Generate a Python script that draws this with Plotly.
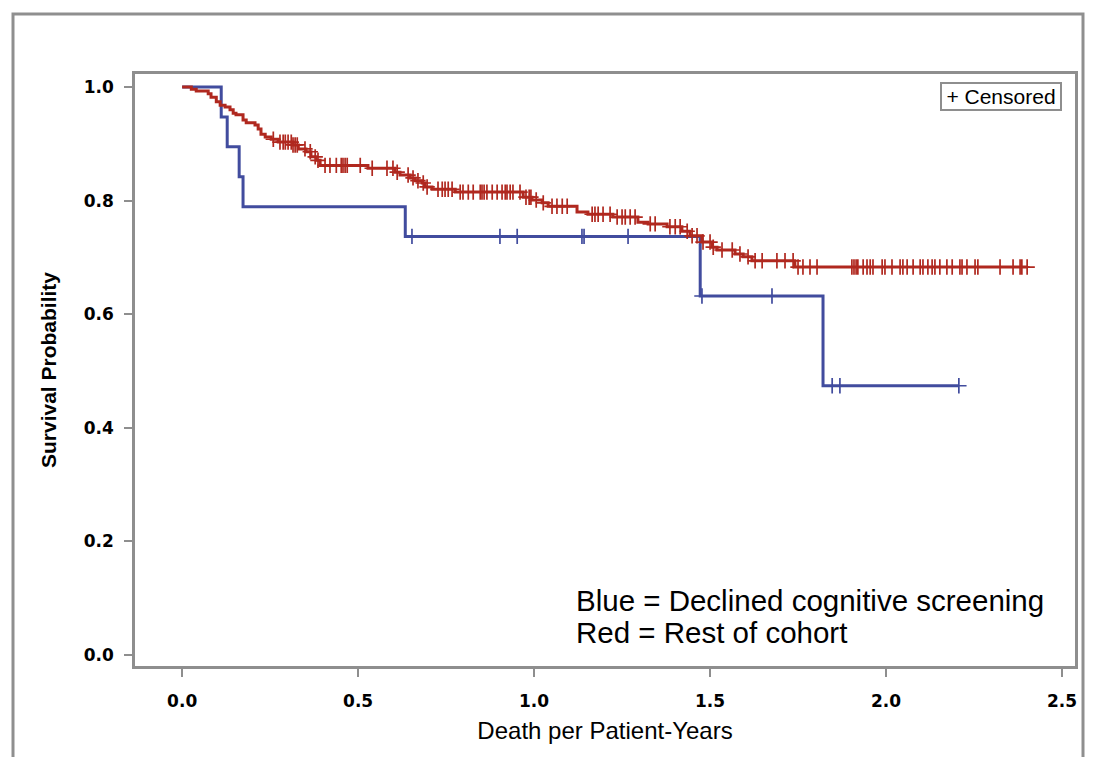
import numpy as np
import plotly.graph_objects as go

# ---------------- data ----------------
blue_event_times = [0.111, 0.128, 0.162, 0.173, 0.634, 1.472, 1.821]
blue_survival = [0.947, 0.895, 0.842, 0.789, 0.737, 0.632, 0.474]
blue_censor_times = [0.653, 0.903, 0.952, 1.136, 1.142, 1.267, 1.477, 1.676,
                     1.847, 1.869, 2.207]

red_event_times = [0.026, 0.040, 0.074, 0.082, 0.097, 0.108, 0.122, 0.136, 0.145,
                   0.153, 0.173, 0.182, 0.207, 0.216, 0.224, 0.236, 0.253, 0.273,
                   0.315, 0.330, 0.352, 0.366, 0.381, 0.392, 0.528, 0.605, 0.619,
                   0.648, 0.662, 0.682, 0.690, 0.710, 0.776, 0.969, 0.994, 1.023,
                   1.040, 1.122, 1.153, 1.224, 1.295, 1.324, 1.378, 1.420, 1.443,
                   1.477, 1.506, 1.520, 1.571, 1.594, 1.619, 1.741]
red_survival = [0.996, 0.993, 0.988, 0.982, 0.974, 0.968, 0.965, 0.960, 0.954,
                0.951, 0.942, 0.937, 0.933, 0.926, 0.917, 0.912, 0.908, 0.903,
                0.898, 0.891, 0.886, 0.877, 0.871, 0.862, 0.857, 0.850, 0.845,
                0.840, 0.835, 0.831, 0.824, 0.820, 0.815, 0.806, 0.801, 0.796,
                0.790, 0.780, 0.776, 0.771, 0.762, 0.759, 0.754, 0.746, 0.738,
                0.727, 0.718, 0.713, 0.706, 0.701, 0.694, 0.683]
red_censor_times = [0.259, 0.278, 0.287, 0.293, 0.301, 0.310, 0.315, 0.321, 0.327,
                    0.349, 0.364, 0.378, 0.386, 0.406, 0.420, 0.438, 0.452, 0.457,
                    0.463, 0.469, 0.506, 0.540, 0.582, 0.599, 0.611, 0.642, 0.656,
                    0.670, 0.685, 0.696, 0.727, 0.739, 0.747, 0.756, 0.767, 0.790,
                    0.798, 0.813, 0.827, 0.847, 0.852, 0.858, 0.866, 0.881, 0.895,
                    0.909, 0.918, 0.923, 0.932, 0.940, 0.960, 0.977, 0.986, 0.991,
                    1.006, 1.026, 1.051, 1.065, 1.080, 1.094, 1.165, 1.173, 1.182,
                    1.196, 1.216, 1.236, 1.250, 1.259, 1.273, 1.287, 1.330, 1.344,
                    1.386, 1.401, 1.415, 1.435, 1.449, 1.463, 1.480, 1.500, 1.509,
                    1.534, 1.563, 1.585, 1.608, 1.628, 1.648, 1.690, 1.713, 1.736,
                    1.750, 1.764, 1.784, 1.804, 1.903, 1.909, 1.915, 1.920, 1.935,
                    1.946, 1.955, 1.963, 1.989, 1.997, 2.017, 2.040, 2.048, 2.060,
                    2.077, 2.097, 2.105, 2.119, 2.131, 2.139, 2.153, 2.173, 2.188,
                    2.210, 2.216, 2.230, 2.253, 2.261, 2.324, 2.361, 2.381, 2.386,
                    2.401]

x_tick_values = [0.0, 0.5, 1.0, 1.5, 2.0, 2.5]
y_tick_values = [0.0, 0.2, 0.4, 0.6, 0.8, 1.0]

series_labels = ["Declined cognitive screening", "Rest of cohort"]
note_lines = ["Blue = Declined cognitive screening", "Red = Rest of cohort"]
legend_text = "+ Censored"

BLUE = "#414C9E"
RED = "#B0281F"
GRAY = "#8E8E8E"


def step_path(times, surv, end_time):
    xs = [0.0] + list(times) + [end_time]
    ys = [1.0] + list(surv) + [surv[-1]]
    return xs, ys


def surv_at(times, surv, tvals):
    t_arr = np.asarray(times)
    s_arr = np.asarray(surv)
    out = []
    for t in tvals:
        idx = np.searchsorted(t_arr, t, side="right")
        out.append(1.0 if idx == 0 else float(s_arr[idx - 1]))
    return out


fig = go.Figure()

for times, surv, cens, color, name in [
    (blue_event_times, blue_survival, blue_censor_times, BLUE, series_labels[0]),
    (red_event_times, red_survival, red_censor_times, RED, series_labels[1]),
]:
    xs, ys = step_path(times, surv, max(cens))
    fig.add_trace(go.Scatter(
        x=xs, y=ys, mode="lines", line=dict(color=color, width=3, shape="hv"),
        name=name, showlegend=False, hoverinfo="skip"))
    fig.add_trace(go.Scatter(
        x=cens, y=surv_at(times, surv, cens), mode="markers",
        marker=dict(symbol="cross-thin", size=11, color=color,
                    line=dict(color=color, width=1.7)),
        name=name + " (censored)", showlegend=False))

# The page body has an 8px margin; work in page pixels and convert.
OFF = 8
W, H = 1094 - OFF, 757 - OFF
ml, mr, mt, mb = 135 - OFF, 19, 74 - OFF, 91
pw, ph = W - ml - mr, H - mt - mb


def px_x(p):
    return (p - OFF - ml) / pw


def px_y(p):
    return 1 - (p - OFF - mt) / ph


shapes = [
    dict(type="line", xref="paper", yref="paper",
         x0=px_x(1089), x1=px_x(1089), y0=px_y(800), y1=px_y(7),
         line=dict(color="#5B9BD5", width=2), layer="below"),
    dict(type="rect", xref="paper", yref="paper",
         x0=px_x(13), x1=px_x(1083), y0=px_y(800), y1=px_y(14),
         line=dict(color="#8F8F8F", width=3), layer="below"),
]

annotations = [
    dict(text=note_lines[0], xref="paper", yref="paper", x=px_x(574), y=px_y(600),
         xanchor="left", yanchor="middle", showarrow=False,
         font=dict(family="Liberation Sans, Arial", size=29.5, color="#000")),
    dict(text=note_lines[1], xref="paper", yref="paper", x=px_x(574), y=px_y(632),
         xanchor="left", yanchor="middle", showarrow=False,
         font=dict(family="Liberation Sans, Arial", size=29.5, color="#000")),
    dict(text=legend_text, xref="paper", yref="paper", x=px_x(1001), y=px_y(96.5),
         xanchor="center", yanchor="middle", showarrow=False,
         width=116, height=23,
         font=dict(family="Liberation Sans, Arial", size=21, color="#000"),
         bordercolor=GRAY, borderwidth=2, borderpad=1, bgcolor="white"),
]

axis_common = dict(
    showline=True, linecolor=GRAY, linewidth=2.5, mirror=True,
    ticks="outside", ticklen=8, tickwidth=2, tickcolor=GRAY,
    showgrid=False, zeroline=False,
    tickfont=dict(family="DejaVu Sans", size=17, color="#000", weight="bold"),
    tickformat=".1f",
)

fig.update_layout(
    width=W, height=H,
    margin=dict(l=ml, r=mr, t=mt, b=mb, autoexpand=False),
    paper_bgcolor="white", plot_bgcolor="white",
    shapes=shapes, annotations=annotations,
    xaxis=dict(axis_common, range=[-0.134, 2.537], tickvals=x_tick_values,
               ticklabelstandoff=10,
               title=dict(text="Death per Patient-Years", standoff=13,
                          font=dict(family="Liberation Sans, Arial", size=24,
                                    color="#000"))),
    yaxis=dict(axis_common, range=[-0.0194, 1.0229], tickvals=y_tick_values,
               ticklabelstandoff=7,
               title=dict(text="Survival Probability", standoff=22,
                          font=dict(family="Liberation Sans, Arial", size=21,
                                    color="#000", weight="bold"))),
)

fig.write_html("out.html")
